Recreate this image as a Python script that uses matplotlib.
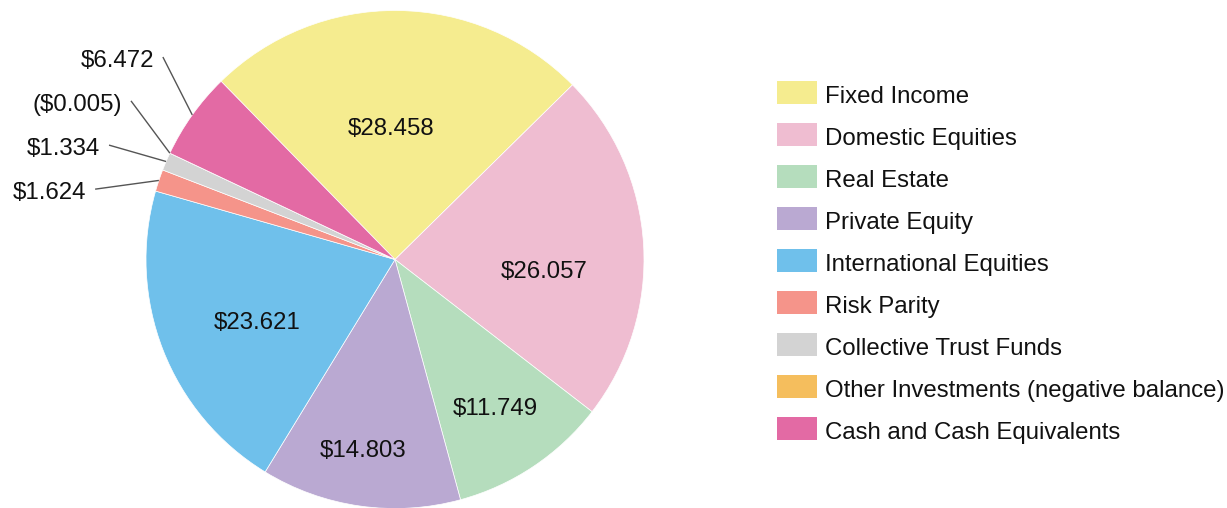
import numpy as np
import matplotlib
matplotlib.use("Agg")
import matplotlib.pyplot as plt
from matplotlib.patches import Rectangle

plt.rcParams['font.family'] = ['Liberation Sans', 'DejaVu Sans']

# Data
categories = ["Fixed Income", "Domestic Equities", "Real Estate", "Private Equity",
              "International Equities", "Risk Parity", "Collective Trust Funds",
              "Other Investments (negative balance)", "Cash and Cash Equivalents"]
values = [28.458, 26.057, 11.749, 14.803, 23.621, 1.624, 1.334, -0.005, 6.472]
colors = ["#F5EC8F", "#EFBDD1", "#B5DDBD", "#BAA9D2", "#6FC0EB",
          "#F5948A", "#D3D3D3", "#F5BE5D", "#E36AA4"]

W, H = 1227, 508
cx, cy, R = 395, H - 259.5, 249
FS = 17.3

def fmt(v):
    return f"(${abs(v):.3f})" if v < 0 else f"${v:.3f}"

fig = plt.figure(figsize=(W / 100, H / 100), dpi=100)
ax = fig.add_axes([0, 0, 1, 1])

sizes = [max(v, 0) for v in values]
wedges, _ = ax.pie(sizes, colors=colors, startangle=134.3, counterclock=False,
                   center=(cx, cy), radius=R,
                   wedgeprops=dict(edgecolor="white", linewidth=0.5))

# label placement: inside labels (radius fraction, angle shift),
# outside labels (angle of the leader line end)
inside = {0: (0.536, 2.4), 1: (0.60, -7.1), 2: (0.715, 0.6), 3: (0.77, -1.6), 4: (0.605, 2.6)}
outside = {5: 166.8, 6: 158.2, 7: 149.0, 8: 138.9}

for i, w in enumerate(wedges):
    mid = (w.theta1 + w.theta2) / 2
    if i in inside:
        rf, dt = inside[i]
        a = np.radians(mid + dt)
        ax.text(cx + rf * R * np.cos(a), cy + rf * R * np.sin(a) - 8.5, fmt(values[i]),
                ha="center", va="baseline", fontsize=FS, color="#111111")
    else:
        a0 = np.radians(mid)
        a1 = np.radians(outside[i])
        x0, y0 = cx + R * np.cos(a0), cy + R * np.sin(a0)
        x1, y1 = cx + 1.237 * R * np.cos(a1), cy + 1.237 * R * np.sin(a1)
        ax.plot([x0, x1], [y0, y1], color="#555555", lw=1.0, solid_capstyle="butt")
        ax.text(x1 - 9, y1 - 10, fmt(values[i]), ha="right", va="baseline",
                fontsize=FS, color="#111111")

# legend
for i, (name, c) in enumerate(zip(categories, colors)):
    yc = H - (92.7 + 42 * i)
    ax.add_patch(Rectangle((776.7, yc - 11.65), 40, 23.3, facecolor=c, edgecolor="none"))
    ax.text(825, yc - 10.6, name, ha="left", va="baseline", fontsize=FS, color="#111111")

ax.set_xlim(0, W)
ax.set_ylim(0, H)
ax.set_aspect("equal")
ax.axis("off")

fig.savefig("out.png", dpi=100, facecolor="white")
